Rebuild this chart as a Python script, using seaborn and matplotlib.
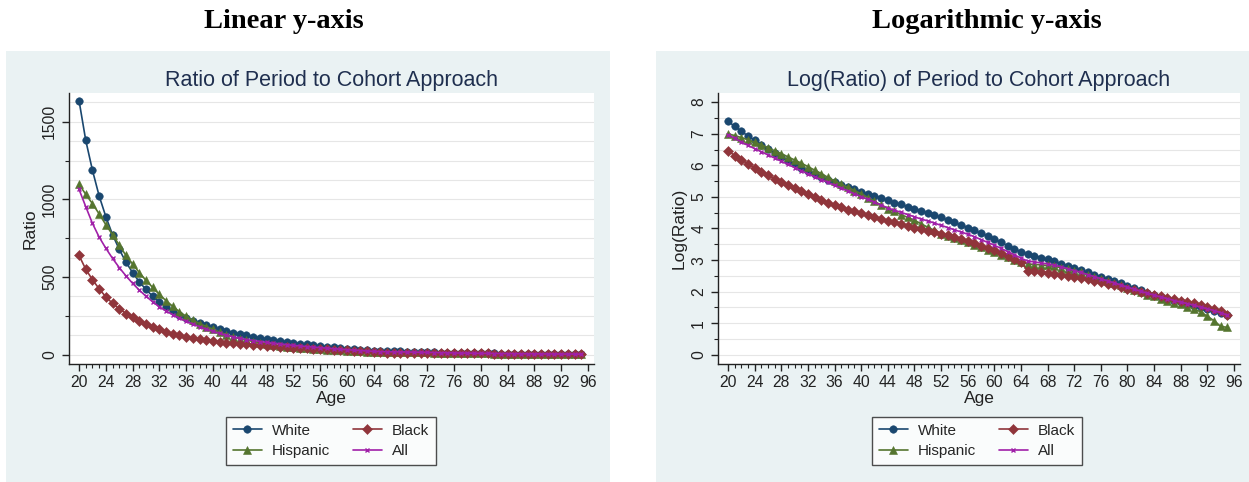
import numpy as np
import pandas as pd
import matplotlib
matplotlib.use("Agg")
import matplotlib.pyplot as plt
import seaborn as sns
from matplotlib.patches import Rectangle
from matplotlib.ticker import MultipleLocator, FixedLocator

# ---------------- data (natural log of period/cohort ratio), ages 20..95 ----------------
ages = list(range(20, 96))

white_log = [7.40, 7.23, 7.08, 6.93, 6.79, 6.65, 6.52, 6.39, 6.27, 6.15,
             6.04, 5.93, 5.83, 5.73, 5.64, 5.55, 5.47, 5.39, 5.31, 5.24,
             5.17, 5.10, 5.03, 4.96, 4.89, 4.82, 4.76, 4.69, 4.62, 4.56,
             4.49, 4.42, 4.35, 4.27, 4.19, 4.11, 4.03, 3.94, 3.85, 3.76,
             3.66, 3.56, 3.46, 3.36, 3.26, 3.19, 3.14, 3.08, 3.02, 2.96,
             2.89, 2.82, 2.75, 2.68, 2.61, 2.54, 2.47, 2.40, 2.33, 2.26,
             2.18, 2.11, 2.04, 1.97, 1.90, 1.84, 1.78, 1.72, 1.67, 1.61,
             1.56, 1.50, 1.45, 1.39, 1.33, 1.27]

hispanic_log = [7.00, 6.94, 6.88, 6.81, 6.73, 6.65, 6.56, 6.46, 6.37, 6.27,
                6.17, 6.07, 5.96, 5.85, 5.74, 5.62, 5.51, 5.40, 5.30, 5.20,
                5.10, 4.98, 4.86, 4.74, 4.63, 4.54, 4.44, 4.35, 4.26, 4.15,
                4.04, 3.94, 3.84, 3.77, 3.70, 3.63, 3.57, 3.49, 3.41, 3.33,
                3.25, 3.17, 3.09, 3.01, 2.93, 2.88, 2.86, 2.85, 2.83, 2.80,
                2.76, 2.72, 2.67, 2.61, 2.54, 2.48, 2.41, 2.34, 2.27, 2.20,
                2.12, 2.05, 1.98, 1.91, 1.85, 1.78, 1.72, 1.65, 1.60, 1.53,
                1.45, 1.36, 1.22, 1.08, 0.90, 0.87]

black_log = [6.46, 6.31, 6.18, 6.05, 5.92, 5.80, 5.69, 5.58, 5.48, 5.38,
             5.28, 5.18, 5.09, 5.00, 4.91, 4.82, 4.74, 4.67, 4.60, 4.54,
             4.48, 4.42, 4.36, 4.30, 4.24, 4.19, 4.14, 4.09, 4.03, 3.98,
             3.93, 3.88, 3.83, 3.78, 3.72, 3.66, 3.60, 3.53, 3.46, 3.39,
             3.31, 3.22, 3.13, 3.04, 2.95, 2.66, 2.64, 2.62, 2.60, 2.57,
             2.54, 2.51, 2.48, 2.44, 2.40, 2.35, 2.30, 2.25, 2.20, 2.15,
             2.10, 2.05, 2.00, 1.95, 1.90, 1.85, 1.80, 1.76, 1.72, 1.68,
             1.63, 1.58, 1.53, 1.46, 1.38, 1.26]

all_log = [6.97, 6.86, 6.74, 6.63, 6.53, 6.43, 6.33, 6.23, 6.13, 6.03,
           5.93, 5.83, 5.73, 5.64, 5.55, 5.46, 5.37, 5.28, 5.19, 5.10,
           5.01, 4.92, 4.83, 4.74, 4.65, 4.58, 4.51, 4.44, 4.37, 4.30,
           4.24, 4.17, 4.10, 4.03, 3.96, 3.89, 3.82, 3.74, 3.65, 3.56,
           3.47, 3.37, 3.27, 3.17, 3.06, 2.97, 2.94, 2.91, 2.88, 2.84,
           2.79, 2.73, 2.67, 2.61, 2.54, 2.48, 2.41, 2.34, 2.28, 2.21,
           2.14, 2.08, 2.01, 1.95, 1.89, 1.83, 1.78, 1.72, 1.67, 1.62,
           1.57, 1.51, 1.46, 1.40, 1.34, 1.25]

groups = ["White", "Hispanic", "Black", "All"]
x_ticks = list(range(20, 97, 4))
left_yticks = [0, 500, 1000, 1500]
right_yticks = list(range(0, 9))

# long-form table; Ratio is the exponentiated Log(Ratio)
series = {"White": white_log, "Hispanic": hispanic_log, "Black": black_log, "All": all_log}
df = pd.concat([pd.DataFrame({"Age": ages, "Group": g, "LogRatio": v}) for g, v in series.items()],
               ignore_index=True)
df["Ratio"] = np.exp(df["LogRatio"])

# ---------------- styling ----------------
colors = {"White": "#1a476f", "Hispanic": "#55752f", "Black": "#90353b", "All": "#a020a8"}
markers = {"White": "o", "Hispanic": "^", "Black": "D", "All": "x"}
msizes = {"White": 5.4, "Hispanic": 5.6, "Black": 4.8, "All": 2.4}

sns.set_theme(style="white")
plt.rcParams["font.family"] = ["Liberation Sans", "DejaVu Sans"]

W, H = 1249, 482
fig = plt.figure(figsize=(W / 100, H / 100), dpi=100)
fig.patch.set_facecolor("white")

BG = "#EAF2F3"
fig.add_artist(Rectangle((6 / W, 0), (610 - 6) / W, (H - 51) / H, transform=fig.transFigure,
                         facecolor=BG, edgecolor="none", zorder=0))
fig.add_artist(Rectangle((656 / W, 0), (W - 656) / W, (H - 51) / H, transform=fig.transFigure,
                         facecolor=BG, edgecolor="none", zorder=0))

top_px, bot_px = 93, 364
ax1 = fig.add_axes([69 / W, (H - bot_px) / H, (594 - 69) / W, (bot_px - top_px) / H])
ax2 = fig.add_axes([718 / W, (H - bot_px) / H, (1240 - 718) / W, (bot_px - top_px) / H])

title_color = "#1f2f4f"
fig.text(284 / W, 1 - 21 / H, "Linear y-axis", ha="center", va="center",
         family=["Liberation Serif", "DejaVu Serif"], weight="bold", fontsize=20.5, color="black")
fig.text(987 / W, 1 - 21 / H, "Logarithmic y-axis", ha="center", va="center",
         family=["Liberation Serif", "DejaVu Serif"], weight="bold", fontsize=20.5, color="black")


def draw(ax, ycol, ylim, yticks, yminor, ygrid, ylabel, title, legend_center):
    ax.set_facecolor("white")
    for g in groups:
        sub = df[df["Group"] == g]
        sns.lineplot(data=sub, x="Age", y=ycol, ax=ax, color=colors[g], marker=markers[g],
                     markersize=msizes[g], markeredgewidth=(1.0 if g == "All" else 0.4),
                     markeredgecolor=colors[g], linewidth=1.2, label=g, legend=False,
                     errorbar=None, zorder=3)
    ax.set_xlim(18.5, 96.9)
    ax.set_ylim(*ylim)
    ax.set_xticks(x_ticks)
    ax.xaxis.set_minor_locator(FixedLocator([a for a in range(21, 65) if a % 4 != 0]))
    ax.set_yticks(yticks)
    ax.yaxis.set_minor_locator(MultipleLocator(yminor))
    for gv in np.arange(0, ylim[1], ygrid):
        ax.axhline(gv, color="#e6e6e6", lw=0.8, zorder=1)
    for s in ["top", "right"]:
        ax.spines[s].set_visible(False)
    for s in ["left", "bottom"]:
        ax.spines[s].set_color("#222222")
        ax.spines[s].set_linewidth(1.0)
    ax.tick_params(axis="both", which="major", direction="out", length=5, width=1,
                   color="#222222", labelsize=11.3, labelcolor="#222222", left=True, bottom=True)
    ax.tick_params(axis="both", which="minor", direction="out", length=3, width=0.8,
                   color="#222222", left=True, bottom=True)
    ax.tick_params(axis="x", pad=3)
    for lab in ax.get_yticklabels():
        lab.set_rotation(90)
        lab.set_va("center")
    ax.set_xlabel("Age", fontsize=12.5, color="#222222", labelpad=1)
    ax.set_ylabel(ylabel, fontsize=12.5, color="#222222", labelpad=3)
    ax.set_title(title, fontsize=15.5, color=title_color, pad=5)
    handles, labels = ax.get_legend_handles_labels()
    leg = fig.legend(handles, labels, ncol=2, loc="center",
                     bbox_to_anchor=(legend_center / W, 1 - 441 / H),
                     frameon=True, fancybox=False, edgecolor="#222222", facecolor="white",
                     fontsize=11, handlelength=1.9, columnspacing=1.5, borderpad=0.45,
                     labelspacing=0.42, handletextpad=0.65)
    leg.get_frame().set_linewidth(1.0)


draw(ax1, "Ratio", (-60, 1685), left_yticks, 250, 125, "Ratio",
     "Ratio of Period to Cohort Approach", 331)
draw(ax2, "LogRatio", (-0.29, 8.29), right_yticks, 0.5, 0.5, "Log(Ratio)",
     "Log(Ratio) of Period to Cohort Approach", 977)

fig.savefig("out.png", dpi=100, facecolor="white")
